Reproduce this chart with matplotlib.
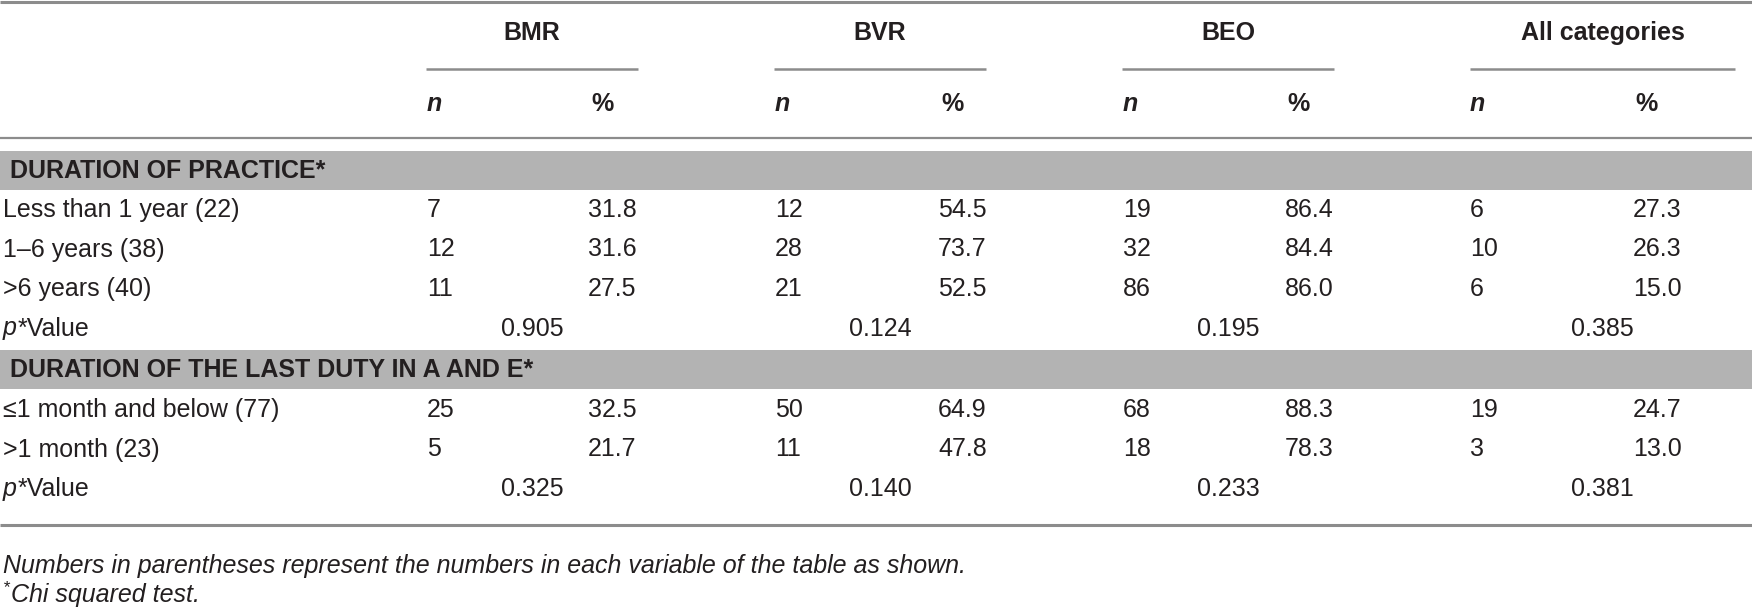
import matplotlib
matplotlib.use("Agg")
import matplotlib.pyplot as plt

# ---------------- data ----------------
groups = ["BMR", "BVR", "BEO", "All categories"]
section1_title = "DURATION OF PRACTICE*"
section1_labels = ["Less than 1 year (22)", "1\u20136 years (38)", ">6 years (40)"]
section1_n = [[7, 12, 19, 6], [12, 28, 32, 10], [11, 21, 86, 6]]
section1_pct = [[31.8, 54.5, 86.4, 27.3], [31.6, 73.7, 84.4, 26.3], [27.5, 52.5, 86.0, 15.0]]
section1_p = ["0.905", "0.124", "0.195", "0.385"]

section2_title = "DURATION OF THE LAST DUTY IN A AND E*"
section2_labels = ["\u22641 month and below (77)", ">1 month (23)"]
section2_n = [[25, 50, 68, 19], [5, 11, 18, 3]]
section2_pct = [[32.5, 64.9, 88.3, 24.7], [21.7, 47.8, 78.3, 13.0]]
section2_p = ["0.325", "0.140", "0.233", "0.381"]

footnote1 = "Numbers in parentheses represent the numbers in each variable of the table as shown."
footnote2 = "Chi squared test."

# ---------------- style ----------------
plt.rcParams["font.family"] = ["Liberation Sans", "DejaVu Sans"]

W, H = 1752, 610
fig = plt.figure(figsize=(W / 100, H / 100), dpi=100)
ax = fig.add_axes([0, 0, 1, 1])
ax.set_xlim(0, W)
ax.set_ylim(H, 0)
ax.axis("off")

TXT = "#231f20"
LINE = "#8c8c8c"
BAND = "#b3b3b3"
FS = 18

n_x = [427, 775, 1123, 1470]
pct_x = [588, 938, 1285, 1633]
ul = [(426, 638), (774, 986), (1122, 1334), (1470, 1735)]

# rules
ax.plot([0, W], [1.5, 1.5], color=LINE, lw=2.2, solid_capstyle="butt")
for (a, b) in ul:
    ax.plot([a, b], [69, 69], color=LINE, lw=1.8, solid_capstyle="butt")
ax.plot([0, W], [138, 138], color=LINE, lw=1.6, solid_capstyle="butt")
ax.plot([0, W], [525, 525], color=LINE, lw=2.2, solid_capstyle="butt")

# headers
for i, g in enumerate(groups):
    cx = (ul[i][0] + ul[i][1]) / 2
    ax.text(cx, 33, g, ha="center", va="center", fontsize=FS, fontweight="bold", color=TXT)
    ax.text(n_x[i], 104, "n", ha="left", va="center", fontsize=FS, fontweight="bold",
            fontstyle="italic", color=TXT)
    ax.text(pct_x[i] + 14, 104, "%", ha="center", va="center", fontsize=FS, fontweight="bold",
            color=TXT)


def section(title, band_top, labels, ns, pcts, ps, first_row_y):
    ax.add_patch(plt.Rectangle((0, band_top), W, 39, color=BAND, lw=0))
    ax.text(10, band_top + 20, title, ha="left", va="center", fontsize=FS,
            fontweight="bold", color=TXT)
    y = first_row_y
    for lab, nrow, prow in zip(labels, ns, pcts):
        ax.text(3, y, lab, ha="left", va="center", fontsize=FS, color=TXT)
        for i in range(4):
            ax.text(n_x[i], y, f"{nrow[i]}", ha="left", va="center", fontsize=FS, color=TXT)
            ax.text(pct_x[i], y, f"{prow[i]:.1f}", ha="left", va="center", fontsize=FS, color=TXT)
        y += 39.5
    t = ax.text(3, y, "p", ha="left", va="center", fontsize=FS, fontstyle="italic", color=TXT)
    ax.annotate("*Value", xycoords=t, xy=(1, 0.5), va="center", ha="left",
                fontsize=FS, color=TXT, xytext=(0.5, 0), textcoords="offset points")
    for i in range(4):
        cx = (ul[i][0] + ul[i][1]) / 2
        ax.text(cx, y, ps[i], ha="center", va="center", fontsize=FS, color=TXT)


section(section1_title, 151, section1_labels, section1_n, section1_pct, section1_p, 210)
section(section2_title, 350, section2_labels, section2_n, section2_pct, section2_p, 410)

# footnotes
ax.text(3, 566, footnote1, ha="left", va="center", fontsize=FS, fontstyle="italic", color=TXT)
ax.text(3, 588, "*", ha="left", va="center", fontsize=FS * 0.7, fontstyle="italic", color=TXT)
ax.text(11, 595, footnote2, ha="left", va="center", fontsize=FS, fontstyle="italic", color=TXT)

fig.savefig("out.png", dpi=100)
